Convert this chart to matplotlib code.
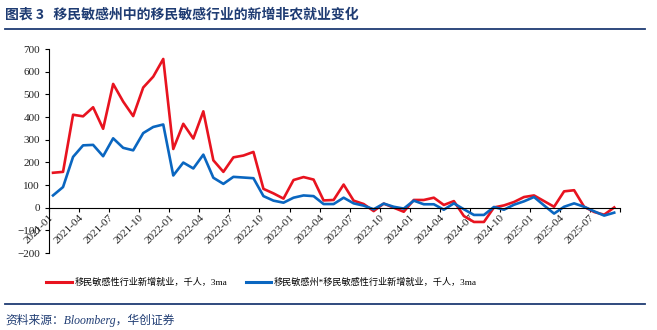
import numpy as np
import pandas as pd
import matplotlib
matplotlib.use("Agg")
import matplotlib.pyplot as plt
from matplotlib.lines import Line2D

plt.rcParams['font.family'] = ['Liberation Serif', 'Noto Sans CJK SC', 'DejaVu Sans']

# monthly categories, 2021-01 .. 2025-09
months = pd.date_range("2021-01-01", "2025-09-01", freq="MS").strftime("%Y-%m").tolist()

# 移民敏感性行业新增就业, 千人, 3ma
red_vals = [154, 158, 410, 403, 443, 348, 546, 468, 404, 530, 578, 656,
            259, 370, 305, 425, 209, 158, 222, 230, 246, 83, 63, 40,
            122, 135, 124, 32, 34, 102, 31, 16, -15, 18, 0, -18,
            34, 34, 44, 12, 29, -37, -63, -63, 1, 10, 25, 47,
            54, 29, 4, 72, 77, 4, -19, -31, 1]

# 移民敏感州*移民敏感性行业新增就业, 千人, 3ma
blue_vals = [54, 91, 224, 275, 277, 227, 306, 264, 253, 329, 356, 367,
             142, 199, 173, 234, 132, 105, 136, 133, 130, 51, 31, 22,
             44, 54, 51, 16, 16, 44, 19, 9, -7, 18, 4, -4,
             31, 15, 15, -9, 19, -7, -32, -32, 3, -9, 13, 28,
             47, 10, -26, 4, 19, 4, -16, -35, -22]

red_label = "移民敏感性行业新增就业，千人，3ma"
blue_label = "移民敏感州*移民敏感性行业新增就业，千人，3ma"
title_text = "图表 3   移民敏感州中的移民敏感行业的新增非农就业变化"
source_text = "资料来源：Bloomberg，华创证券"

RED = "#e8131f"
BLUE = "#0a66c0"
NAVY = "#1f3c73"

fig = plt.figure(figsize=(6.57, 3.30), dpi=100)
ax = fig.add_axes([0.0746, 0.2333, 0.8694, 0.6182])

x = np.arange(len(months))
ax.plot(x, red_vals, color=RED, lw=1.9)
ax.plot(x, blue_vals, color=BLUE, lw=1.9)

ax.set_ylim(-200, 700)
ax.set_yticks(np.arange(-200, 701, 100))
ax.set_xlim(-0.4, 56.6)

tick_pos = list(np.arange(0, len(months), 3) - 0.4) + [56.6]
tick_lab = months[::3] + [""]
ax.set_xticks(tick_pos)
ax.set_xticklabels(tick_lab)

for s in ["top", "right"]:
    ax.spines[s].set_visible(False)
ax.spines["bottom"].set_position(("data", 0))
ax.spines["bottom"].set_color("black")
ax.spines["left"].set_color("black")
ax.tick_params(axis="both", labelsize=8, colors="black", length=3, width=0.8)
ax.tick_params(axis="x", pad=1)
for lbl in ax.get_xticklabels():
    lbl.set_rotation(45)
    lbl.set_ha("right")
    lbl.set_va("top")
    lbl.set_rotation_mode("anchor")
for lbl in ax.get_yticklabels() + ax.get_xticklabels():
    lbl.set_color("#222222")

# title and rules
fig.text(0.008, 0.955, title_text, fontsize=10, fontweight="bold", color=NAVY,
         family=["Noto Sans CJK SC", "DejaVu Sans"], va="center", ha="left")
fig.add_artist(Line2D([0.008, 0.982], [0.912, 0.912], color=NAVY, lw=1.3))
fig.add_artist(Line2D([0.008, 0.982], [0.079, 0.079], color=NAVY, lw=1.3))
fig.text(0.008, 0.030, source_text, fontsize=8.5, style="italic", color=NAVY,
         family=["Liberation Serif", "Noto Sans CJK SC"], va="center", ha="left")

handles = [Line2D([], [], color=RED, lw=2.2), Line2D([], [], color=BLUE, lw=2.2)]
fig.legend(handles, [red_label, blue_label], loc="center", ncol=2,
           bbox_to_anchor=(0.398, 0.145), frameon=False, handlelength=2.8,
           handletextpad=0.3, columnspacing=2.0,
           prop={"family": ["Liberation Serif", "Noto Sans CJK SC"], "size": 6.6})

fig.savefig("out.png", dpi=100)
